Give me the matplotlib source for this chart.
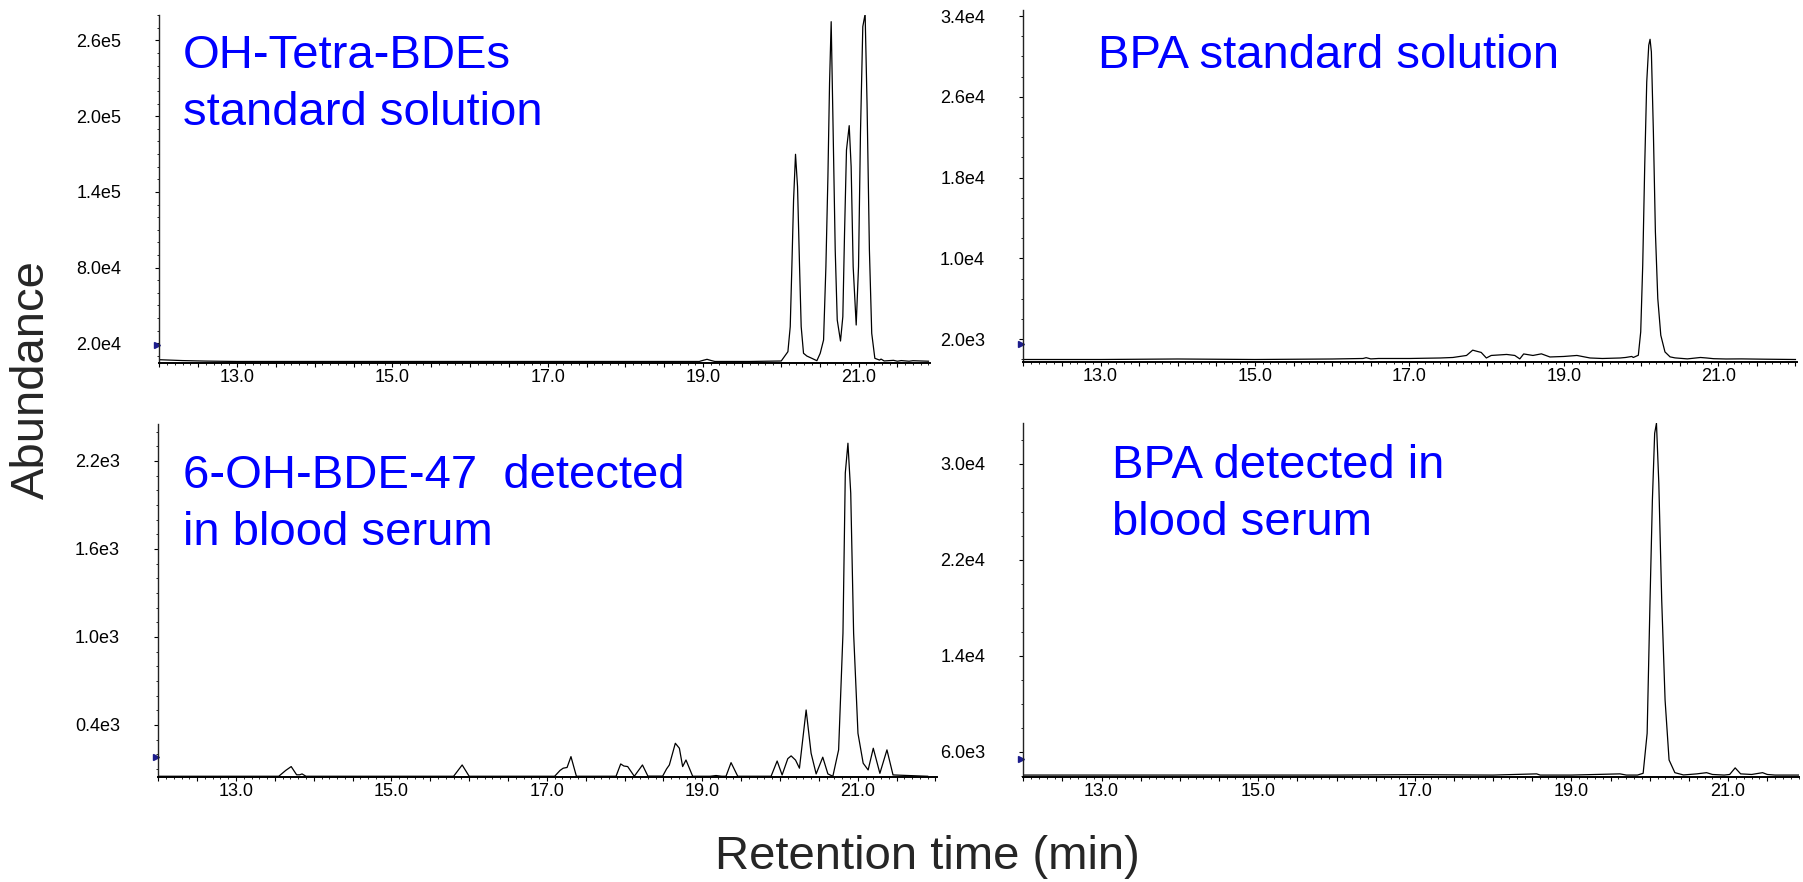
import matplotlib
matplotlib.use("Agg")
import matplotlib.pyplot as plt
from matplotlib.ticker import FixedLocator, FuncFormatter, MultipleLocator
import matplotlib.transforms as mtransforms

plt.rcParams['font.family'] = ['Liberation Sans', 'DejaVu Sans']

# ---------------- data ----------------
# Top-left: OH-Tetra-BDEs standard solution
tl_time = [12.0, 12.3, 12.6, 13.0, 15.0, 17.0, 18.95, 19.0, 19.05, 19.1, 19.15, 19.6,
           20.005, 20.091, 20.121, 20.142, 20.164, 20.189, 20.215, 20.241, 20.262, 20.292,
           20.335, 20.399, 20.464, 20.507, 20.55, 20.58, 20.606, 20.627, 20.648, 20.67,
           20.70, 20.726, 20.768, 20.798, 20.82, 20.845, 20.88, 20.905, 20.931, 20.97,
           21.0, 21.025, 21.055, 21.085, 21.11, 21.14, 21.17, 21.21, 21.27, 21.29, 21.33,
           21.45, 21.5, 21.55, 21.65, 21.7, 21.9]
tl_abund = [7000, 6300, 5900, 5600, 5600, 5600, 5600, 6500, 7300, 6400, 5600, 5600,
            5970, 13340, 33160, 80700, 133600, 169800, 144100, 80700, 33160, 12100,
            9900, 8100, 6200, 12100, 22600, 80700, 152000, 226100, 274900, 199600,
            93950, 38500, 21800, 41100, 107200, 173200, 192500, 160000, 80700, 34500,
            80700, 186400, 271000, 281000, 209000, 93950, 27900, 8100, 6700, 7500, 6000,
            6500, 5800, 6300, 5800, 6200, 5800]

# Top-right: BPA standard solution
tr_time = [12.0, 13.0, 14.0, 15.0, 16.0, 16.4, 16.44, 16.5, 16.6, 17.0, 17.4, 17.564,
           17.74, 17.82, 17.88, 17.93, 17.997, 18.06, 18.26, 18.365, 18.43, 18.48, 18.60,
           18.71, 18.82, 19.0, 19.17, 19.34, 19.5, 19.73, 19.80, 19.88, 19.90, 19.965,
           19.996, 20.022, 20.048, 20.074, 20.10, 20.117, 20.134, 20.16, 20.186, 20.217,
           20.256, 20.31, 20.376, 20.44, 20.6, 20.77, 20.85, 20.94, 21.1, 21.3, 21.6, 22.0]
tr_abund = [0, 0, 50, 0, 50, 100, 180, 60, 100, 100, 150, 200,
            400, 925, 800, 700, 150, 400, 500, 400, 60, 550, 400,
            560, 250, 300, 400, 150, 100, 150, 200, 300, 200, 420,
            2730, 9330, 19230, 27480, 31110, 31700, 30450, 22540, 12640, 6040,
            2400, 750, 260, 160, 60, 200, 150, 80, 50, 60, 30, 0]

# Bottom-left: 6-OH-BDE-47 detected in blood serum
bl_time = [12.0, 13.55, 13.64, 13.71, 13.78, 13.82, 13.85, 13.9, 15.8, 15.91, 16.0,
           17.1, 17.17, 17.21, 17.26, 17.31, 17.38, 17.89, 17.95, 17.99, 18.04, 18.125,
           18.23, 18.30, 18.49, 18.54, 18.576, 18.653, 18.705, 18.747, 18.79, 18.876,
           19.1, 19.177, 19.25, 19.305, 19.37, 19.456, 19.885, 19.963, 20.027, 20.1,
           20.143, 20.2, 20.25, 20.336, 20.40, 20.465, 20.55, 20.616, 20.68, 20.754,
           20.81, 20.84, 20.874, 20.91, 20.947, 21.003, 21.07, 21.134, 21.20, 21.285,
           21.376, 21.454, 21.9]
bl_abund = [50, 50, 90, 116, 60, 60, 66, 50, 50, 127, 50,
            50, 90, 105, 110, 184, 50, 50, 134, 120, 116, 50,
            127, 51, 51, 100, 127, 275, 241, 116, 161, 50,
            50, 55, 50, 50, 143, 50, 50, 154, 59, 170,
            189, 160, 105, 502, 207, 66, 180, 66, 50, 230,
            1025, 2118, 2321, 1980, 1025, 343, 139, 93, 241, 70,
            230, 59, 50]

# Bottom-right: BPA detected in blood serum
br_time = [12.0, 14.0, 16.0, 17.0, 18.0, 18.555, 18.6, 19.0, 19.62, 19.7, 19.843,
           19.915, 19.966, 20.003, 20.033, 20.062, 20.085, 20.115, 20.152, 20.195,
           20.246, 20.32, 20.43, 20.6, 20.725, 20.8, 20.95, 21.02, 21.09, 21.16, 21.3,
           21.44, 21.5, 21.6, 21.9]
br_abund = [4050, 4050, 4050, 4080, 4050, 4150, 4050, 4050, 4150, 4050, 4050,
            4198, 7535, 18650, 27000, 32560, 33400, 28390, 18650, 10310,
            5310, 4250, 4060, 4150, 4250, 4100, 4050, 4100, 4650, 4150, 4100,
            4250, 4100, 4050, 4050]

# tick labels
x_tick_labels = ["13.0", "15.0", "17.0", "19.0", "21.0"]
tl_ytick_labels = ["2.0e4", "8.0e4", "1.4e5", "2.0e5", "2.6e5"]
tr_ytick_labels = ["2.0e3", "1.0e4", "1.8e4", "2.6e4", "3.4e4"]
bl_ytick_labels = ["0.4e3", "1.0e3", "1.6e3", "2.2e3"]
br_ytick_labels = ["6.0e3", "1.4e4", "2.2e4", "3.0e4"]

titles = {
    "tl": ["OH-Tetra-BDEs", "standard solution"],
    "tr": ["BPA standard solution"],
    "bl": ["6-OH-BDE-47  detected", "in blood serum"],
    "br": ["BPA detected in", "blood serum"],
}

# ---------------- layout ----------------
W, H = 1803, 882
fig = plt.figure(figsize=(W / 100, H / 100), dpi=100)


def rect(l, r, b, t):
    return [l / W, 1 - b / H, (r - l) / W, (b - t) / H]


panels = [
    # key, rect, time, abund, xlim, ylim, ytick labels, minor y, marker y, title pos
    ("tl", rect(159.3, 930, 362.7, 15), tl_time, tl_abund, (12.0, 21.92),
     (4624, 280200), tl_ytick_labels, 1e4, 18700, (182.7, [68.3, 125.0])),
    ("tr", rect(1023.3, 1797, 361.7, 10), tr_time, tr_abund, (12.0, 22.02),
     (-218, 34600), tr_ytick_labels, 2e3, 1535, (1098.3, [68.3])),
    ("bl", rect(158.3, 937, 776.7, 424), bl_time, bl_abund, (12.0, 22.02),
     (47, 2452), bl_ytick_labels, 100, 184, (182.7, [488.3, 545.0])),
    ("br", rect(1023.3, 1798.6, 776.7, 423), br_time, br_abund, (12.0, 21.9),
     (3914, 33420), br_ytick_labels, 2e3, 5366, (1111.7, [478.3, 535.0])),
]

x_major = [12.0 + 0.5 * i for i in range(21)]
x_label_vals = [float(s) for s in x_tick_labels]

for key, r, t, a, xl, yl, ylabs, ymin_step, mark_y, (tx, tys) in panels:
    ax = fig.add_axes(r)
    ax.plot(t, a, color="black", lw=0.9, solid_joinstyle="round")
    ax.set_xlim(*xl)
    ax.set_ylim(*yl)
    for s in ("top", "right"):
        ax.spines[s].set_visible(False)
    ax.spines["left"].set_linewidth(1.0)
    ax.spines["bottom"].set_linewidth(1.4)
    ax.spines["left"].set_color("#222222")
    ax.spines["bottom"].set_color("black")

    ax.xaxis.set_major_locator(FixedLocator(x_major))
    ax.xaxis.set_major_formatter(FuncFormatter(
        lambda v, p: ("%.1f" % v) if any(abs(v - lv) < 1e-6 for lv in x_label_vals) else ""))
    ax.xaxis.set_minor_locator(MultipleLocator(0.1))

    yvals = [float(s) for s in ylabs]
    ax.yaxis.set_major_locator(FixedLocator(yvals))
    ax.set_yticklabels(ylabs)
    ax.yaxis.set_minor_locator(MultipleLocator(ymin_step))

    ax.tick_params(axis="x", which="major", direction="out", length=3, width=0.8,
                   pad=1.5, labelsize=13, colors="black")
    ax.tick_params(axis="x", which="minor", direction="out", length=1.5, width=0.6)
    ax.tick_params(axis="y", which="major", direction="out", length=3, width=0.8,
                   pad=24.5, labelsize=13, colors="black")
    ax.tick_params(axis="y", which="minor", direction="out", length=1.5, width=0.6)

    # baseline marker on the y axis
    trans = mtransforms.blended_transform_factory(ax.transAxes, ax.transData)
    ax.plot([-0.003], [mark_y], marker=">", color="#1c1c8c", markersize=4.5,
            transform=trans, clip_on=False)

    for line, ty in zip(titles[key], tys):
        fig.text(tx / W, 1 - ty / H, line, color="#0000ff", fontsize=34,
                 ha="left", va="baseline")

fig.text(32 / W, 1 - 380 / H, "Abundance", rotation=90, fontsize=34,
         color="#262626", ha="center", va="center")
fig.text(927 / W, 1 - 857 / H, "Retention time (min)", fontsize=34,
         color="#262626", ha="center", va="center")

fig.savefig("out.png", dpi=100)
